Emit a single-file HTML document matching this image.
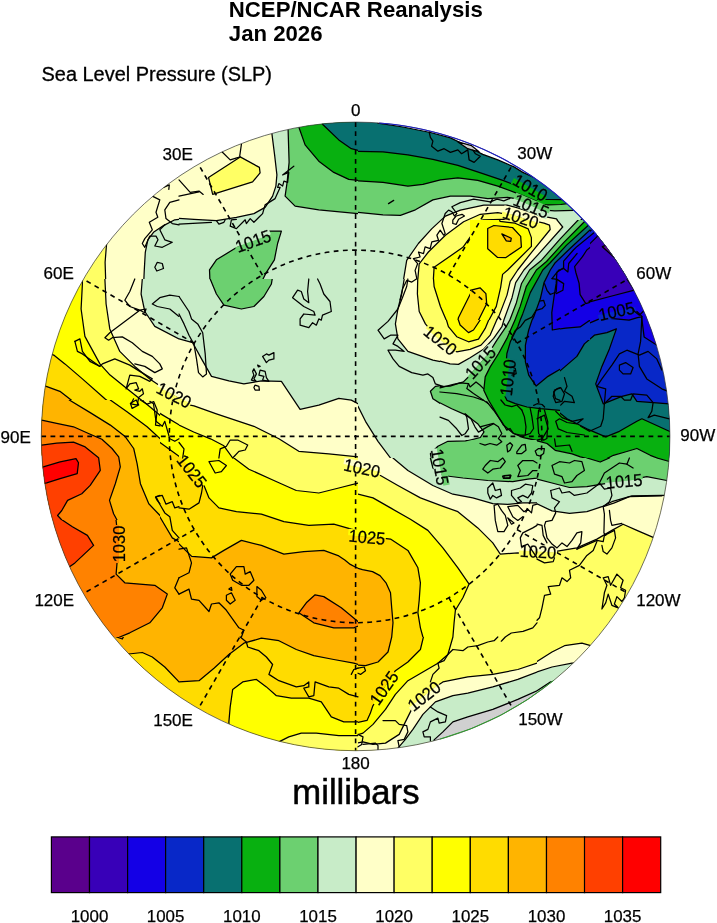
<!DOCTYPE html>
<html><head><meta charset="utf-8"><title>NCEP/NCAR Reanalysis</title>
<style>
html,body{margin:0;padding:0;background:#fff}
body{width:717px;height:923px;overflow:hidden}
svg{display:block}
text{font-family:"Liberation Sans",sans-serif;fill:#000}
</style></head><body>
<svg width="717" height="923" viewBox="0 0 717 923">
<defs>
<clipPath id="cc"><circle cx="355.6" cy="436.4" r="314.3"/></clipPath>
<clipPath id="t0"><rect x="0" y="100" width="179" height="179"/></clipPath>
<clipPath id="t1"><rect x="179" y="100" width="179" height="179"/></clipPath>
<clipPath id="t2"><rect x="358" y="100" width="179" height="179"/></clipPath>
<clipPath id="t3"><rect x="537" y="100" width="179" height="179"/></clipPath>
<clipPath id="t4"><rect x="0" y="279" width="179" height="179"/></clipPath>
<clipPath id="t5"><rect x="179" y="279" width="179" height="179"/></clipPath>
<clipPath id="t6"><rect x="358" y="279" width="179" height="179"/></clipPath>
<clipPath id="t7"><rect x="537" y="279" width="179" height="179"/></clipPath>
<clipPath id="t8"><rect x="0" y="458" width="179" height="179"/></clipPath>
<clipPath id="t9"><rect x="179" y="458" width="179" height="179"/></clipPath>
<clipPath id="t10"><rect x="358" y="458" width="179" height="179"/></clipPath>
<clipPath id="t11"><rect x="537" y="458" width="179" height="179"/></clipPath>
<clipPath id="t12"><rect x="0" y="637" width="179" height="179"/></clipPath>
<clipPath id="t13"><rect x="179" y="637" width="179" height="179"/></clipPath>
<clipPath id="t14"><rect x="358" y="637" width="179" height="179"/></clipPath>
<clipPath id="t15"><rect x="537" y="637" width="179" height="179"/></clipPath>
<clipPath id="t16"><rect x="470" y="220" width="120" height="120"/></clipPath>
<clipPath id="t17"><rect x="440" y="320" width="120" height="120"/></clipPath>
<clipPath id="t18"><rect x="40" y="400" width="120" height="120"/></clipPath>
<clipPath id="t19"><rect x="358" y="458" width="1" height="1"/></clipPath>
<clipPath id="t20"><rect x="480" y="400" width="1" height="1"/></clipPath>
<clipPath id="t21"><rect x="390" y="180" width="1" height="1"/></clipPath>
</defs>
<rect width="717" height="923" fill="#fff"/>
<g clip-path="url(#cc)">
<g clip-path="url(#t0)" stroke="#000" stroke-width="1.25" stroke-linejoin="round">
<rect x="0" y="100" width="179" height="179" fill="#ffffc8" stroke="none"/>
<polygon fill="#c8ecc8" points="187.2,218.6 174.8,219.8 163.5,225.6 153.5,232.3 147.8,239.8 145.3,252.3 144.3,269.8 143.5,287.2 187.2,287.2"/>
<polygon fill="#ffff64" points="106.6,243.5 105.1,262.3 105.9,287.2 62.4,287.2 62.4,249.8"/>
</g>
<g clip-path="url(#t1)" stroke="#000" stroke-width="1.25" stroke-linejoin="round">
<rect x="179" y="100" width="179" height="179" fill="#c8ecc8" stroke="none"/>
<polygon fill="#ffffc8" points="271.9,122.5 271.9,133.7 274.6,154.9 276.9,174.9 275.9,186.1 272.6,196.1 265.1,207.4 253.9,213.6 236.4,217.3 216.4,220.6 194,219.3 171.5,217.8 171.5,92.5 271.9,92.5"/>
<polygon fill="#ffff64" points="208.5,177.4 240.2,156.9 259.4,167.4 260.1,172.9 252.6,181.9 212.7,194.4"/>
<polygon fill="#6cd070" points="287.6,122.5 288.1,129.5 289.1,162.4 287.1,182.4 285.1,196.1 295.1,206.1 318.8,209.8 366.2,214.3 366.2,92.5 287.6,92.5"/>
<polygon fill="#08b010" points="298.3,122.5 298.8,127 305.1,144.9 318.8,161.2 333.8,172.4 348.8,179.4 366.2,181.1 366.2,92.5 298.3,92.5"/>
<polygon fill="#087070" points="321.3,120 322.5,124.2 338.8,139.9 351.3,148.7 366.2,152.4 366.2,92.5 321.3,92.5"/>
<polygon fill="#6cd070" points="236.9,247.3 251.4,236.8 268.9,231.1 281.4,231.1 277.6,243.5 274.4,259.8 266.4,272.3 258.9,287.2 210.2,287.2 209.5,269.8 216.4,259.8"/>
</g>
<g clip-path="url(#t2)" stroke="#000" stroke-width="1.25" stroke-linejoin="round">
<rect x="358" y="100" width="179" height="179" fill="#087070" stroke="none"/>
<polygon fill="#ffffff" points="373,115 378,123.2 402.9,127 430.4,132.5 450.4,137.9 467.8,146.2 476.6,151.2 482.8,154.4 497.8,159.9 514,166.9 522.8,172.4 545.2,182.4 545.2,92.5 373,92.5"/>
<polygon fill="#d0d0d0" points="457.9,141.9 471.6,145.7 479.1,151.7 473.3,150.4 467.8,148.7"/>
<polygon fill="#08b010" points="350.5,151.2 383,151.9 407.9,154.9 432.9,159.4 457.9,165.4 482.8,173.6 502.8,180.4 517.8,186.1 545.2,198.6 545.2,287.2 350.5,287.2"/>
<polygon fill="#6cd070" points="350.5,180.4 383,182.4 407.9,186.1 422.9,184.4 440.4,179.9 457.9,177.9 477.8,180.4 497.8,186.1 517.8,193.6 545.2,204.9 545.2,287.2 350.5,287.2"/>
<polygon fill="#c8ecc8" points="350.5,211.8 383,214.8 400.4,215.3 415.4,209.8 432.9,199.9 450.4,196.1 470.3,196.1 487.8,198.6 507.8,197.4 522.8,199.9 545.2,209.8 545.2,287.2 350.5,287.2"/>
<polygon fill="#ffffc8" points="399.9,289.7 403.4,280.5 406.7,260.3 418.4,243.5 431.9,228.6 445.4,216.1 460.4,210.1 483.8,205.1 507,205.1 517.8,207.8 545.2,217.3 545.2,287.2"/>
<polygon fill="#ffff64" points="416.7,289.7 417.7,280.5 419.2,263.8 428.4,252 445.4,235.3 463.6,221.8 480.3,214.3 497.8,212.6 512.8,215.3 532.8,221.1 545.2,227.3 545.2,287.2"/>
<polygon fill="#ffff00" points="432.9,287.2 434.1,267.3 462.9,247.3 475.3,229.8 482.8,219.8 502.8,219.3 522.8,224.8 530.3,234.8 532.8,247.3 530.3,254.8 517.8,269.8 507.8,287.2"/>
<polygon fill="#ffdc00" points="487.8,228.6 494.1,225.6 512.8,229.8 521.5,238.6 520.3,247.3 507.8,257.3 497.8,257.3 487.8,248.5"/>
<polygon fill="#ffb400" points="500.3,232.3 510.8,237.8 509,241.8 504,241.1"/>
</g>
<g clip-path="url(#t3)" stroke="#000" stroke-width="1.25" stroke-linejoin="round">
<rect x="537" y="100" width="179" height="179" fill="#087070" stroke="none"/>
<polygon fill="#08b010" points="522.9,199.1 548,199.5 562.6,199.5 623.3,199.5 623.3,351.4 522.9,351.4"/>
<polygon fill="#6cd070" points="522.9,204.9 548,204.9 560.6,204.5 567.7,203.7 623.3,203.7 623.3,351.4 522.9,351.4"/>
<polygon fill="#c8ecc8" points="522.9,210.1 548,210.4 554.7,210.8 573.9,210.4 623.3,210.4 623.3,351.4 522.9,351.4"/>
<polygon fill="#ffffc8" points="514.4,215.1 539.6,215.7 556.5,218.8 562.8,228.2 549.6,243.9 527,267.8 514.4,280.3"/>
<polygon fill="#ffff64" points="514.4,217.6 535.8,218.8 549.6,224.5 550.6,231.4 539.6,243.9 527,257.1 514.4,270.3"/>
<polygon fill="#ffff00" points="514.4,228.2 527,228.9 530.8,230.1 532,242.7 527,250.2 514.4,262.8"/>
<polygon fill="#6cd070" points="582.2,218.8 564.7,236.4 545.8,255.2 527,275.3 514.4,289.1 514.4,388.3 715.3,388.3 715.3,212.6 602.3,212.6"/>
<polygon fill="#08b010" points="586,223.2 567.2,241.4 548.3,260.2 533.3,275.3 527,285.4 514.4,300.4 514.4,388.3 715.3,388.3 715.3,212.6 602.3,212.6"/>
<polygon fill="#087070" points="589.1,227 569.7,245.8 552.1,262.8 539.6,275.3 529.5,290 519.5,304.2 519.5,388.3 715.3,388.3 715.3,212.6 602.3,212.6"/>
<polygon fill="#0828c8" points="591.6,229.5 572.2,249 555.9,265.3 543.3,277.8 535.8,290 527,304.2 527,388.3 715.3,388.3 715.3,212.6 602.3,212.6"/>
<polygon fill="#1400e6" points="594.2,232.6 577.2,246.4 565.9,256.5 558.4,267.8 548.3,280.3 544.6,290 539.6,304.2 539.6,388.3 715.3,388.3 715.3,212.6 602.3,212.6"/>
<polygon fill="#3800b8" points="597.3,236.4 587.2,246.4 577.2,260.2 574.7,272.8 577.2,290 579.7,304.2 579.7,388.3 715.3,388.3 715.3,212.6 602.3,212.6"/>
<polygon fill="#5a008c" points="602.3,246.7 608.6,244.2 627.4,262.8 622.4,265.3 617,260"/>
</g>
<g clip-path="url(#t4)" stroke="#000" stroke-width="1.25" stroke-linejoin="round">
<rect x="0" y="279" width="179" height="179" fill="#ffffc8" stroke="none"/>
<polygon fill="#c8ecc8" points="143.5,271.5 142.3,279 141.1,294 144.8,311.5 154.8,326.4 179,338.9 187.2,341.4 187.2,271.5"/>
<polygon fill="#ffff64" points="104.9,271.5 104.9,279 106.1,304 109.8,328.9 119.8,351.4 134.8,366.4 149.8,378.9 169.8,392.6 187.2,403.8 187.2,466.2 -7.5,466.2 -7.5,271.5"/>
<polygon fill="#ffff00" points="82.4,271.5 82.4,284 81.1,309 84.9,336.4 99.9,363.9 110.1,375.1 126.8,388.6 143.5,401.8 160.3,413.6 178.5,424.5 187.2,430 187.2,466.2 -7.5,466.2 -7.5,271.5"/>
<polygon fill="#ffdc00" points="25,343.9 53.7,355.1 64.9,363.9 82.4,378.9 104.9,398.8 129.8,418.8 154.8,438.8 179,456.3 187.2,462.5 187.2,466.2 -7.5,466.2 -7.5,343.9"/>
<polygon fill="#ffb400" points="25,381.4 46.2,386.4 59.9,391.3 82.4,408.8 104.9,428.8 124.8,448.8 132.3,458 139.8,466.2 -7.5,466.2 -7.5,381.4"/>
<polygon fill="#ff8200" points="25,420.1 42.4,421.3 62.4,423.8 74.9,426.3 84.9,433.8 99.9,446.3 112.3,458 119.8,466.2 -7.5,466.2 -7.5,420.1"/>
<polygon fill="#ff4000" points="25,446.3 42.4,445 74.9,441.3 84.9,446.3 92.4,458 97.4,466.2 -7.5,466.2 -7.5,446.3"/>
</g>
<g clip-path="url(#t5)" stroke="#000" stroke-width="1.25" stroke-linejoin="round">
<rect x="179" y="279" width="179" height="179" fill="#c8ecc8" stroke="none"/>
<polygon fill="#6cd070" points="210.2,271.5 210.2,279 216.4,294 223.9,305.2 241.4,309 253.9,306.5 263.9,296.5 271.4,284 273.4,271.5"/>
<polygon fill="#ffffc8" points="171.5,337.7 179,338.9 192.7,342.7 201.5,358.9 211.5,376.4 228.9,380.9 243.9,383.9 261.4,380.9 281.4,381.4 300.1,409.3 318.8,405.1 338.8,398.3 351.3,400.1 358,403.8 366.2,406.3 366.2,466.2 171.5,466.2"/>
<polygon fill="#ffff64" points="171.5,401.3 194,405.8 216.4,413.8 253.9,426.3 278.9,438.8 298.8,451.3 328.8,453.8 358,456.8 366.2,457.5 366.2,466.2 171.5,466.2"/>
<polygon fill="#ffff00" points="171.5,420.1 179,425 193.7,432 210.5,438.8 223.9,445.8 232.7,458 236.4,466.2 171.5,466.2"/>
</g>
<g clip-path="url(#t6)" stroke="#000" stroke-width="1.25" stroke-linejoin="round">
<rect x="358" y="279" width="179" height="179" fill="#c8ecc8" stroke="none"/>
<polygon fill="#ffffc8" points="405.4,271.5 404.2,279 401.7,294 397.9,309 395.4,323.9 397.9,338.9 407.9,351.4 432.9,360.1 457.9,365.1 472.8,358.9 487.8,343.9 497.8,328.9 505.3,311.5 512.8,294 520.3,279 522.8,271.5"/>
<polygon fill="#ffff64" points="417.9,271.5 417.4,294 419.2,311.5 425.4,323.9 437.9,338.9 457.9,351.4 477.8,346.4 487.8,333.9 496.6,314 505.3,294 514,271.5"/>
<polygon fill="#ffff00" points="432.9,271.5 434.1,286.5 440.4,306.5 447.9,323.9 457.9,336.4 467.8,341.4 477.8,337.7 485.3,326.4 492.8,309 500.3,289 505.3,271.5"/>
<polygon fill="#ffdc00" points="472.8,289 480.3,288.5 487.8,296.5 489.1,304 472.8,331.4 466.6,332.7 457.9,321.4 458.4,317.7"/>
<polygon fill="#ffffc8" points="350.5,403.8 358,406.3 365.5,421.3 378,441.3 390.5,458 395.4,466.2 350.5,466.2"/>
<polygon fill="#6cd070" points="521.5,271.5 517.8,286.5 511.5,301.5 504,318.9 497.8,332.7 490.3,346.4 477.8,361.4 467.8,376.4 452.9,383.9 435.4,386.4 430.4,391.3 432.9,398.8 442.9,405.1 462.9,408.8 470.3,415.1 477.8,426.3 484.1,431.8 480.3,437.5 465.4,440.8 447.9,441.3 437.9,446.3 430.4,453.8 432.9,466.2 545.2,466.2 545.2,271.5"/>
<polygon fill="#08b010" points="527.8,271.5 522.8,286.5 516.5,304 507.8,323.9 497.8,343.9 487.8,361.4 484.1,378.9 485.3,393.8 492.8,408.8 505.3,423.8 517.8,433.8 537,438.8 545.2,438.8 545.2,271.5"/>
<polygon fill="#087070" points="532.8,271.5 527.8,289 520.3,309 510.3,328.9 505.3,346.4 500.3,366.4 499.1,383.9 505.3,396.3 517.8,403.8 537,408.8 545.2,408.8 545.2,271.5"/>
<polygon fill="#0828c8" points="545.2,309 537,311.5 530.3,321.4 525.3,336.4 524,353.9 527.8,373.9 537,386.4 545.2,388.8"/>
<polygon fill="#1400e6" points="545.2,316.4 537,320.2 531.5,328.9 528.3,341.4 527.8,353.9 530.8,368.9 537,378.9 545.2,381.4"/>
</g>
<g clip-path="url(#t7)" stroke="#000" stroke-width="1.25" stroke-linejoin="round">
<rect x="537" y="279" width="179" height="179" fill="#0828c8" stroke="none"/>
<polygon fill="#1400e6" points="558.8,261.6 553.7,303.5 554.6,331.9 578.8,327.7 602.3,317.7 629.1,320.2 637.4,317.7 641.6,316.9 644.1,336.9 657,345.3 687.6,353.7 687.6,261.6"/>
<polygon fill="#3800b8" points="578.2,271.5 579.4,279 586.9,302.7 611.9,296 634.4,290.2 626.9,279 624.4,271.5"/>
<polygon fill="#087070" points="529.5,271.5 550.7,271.5 549.5,275 537,300.2 529.5,309"/>
<polygon fill="#087070" points="616.4,328.9 606.9,332.7 594.4,335.2 584.4,343.9 576.9,356.4 559.5,371.4 537,385.1 529.5,388.8 529.5,466.2 724.2,466.2 724.2,406.3 676.8,406.3 669.3,403.8 636.9,401.3 631.9,393.8 621.9,396.3 603.2,403.8 595.7,383.9 601.9,366.4 609.4,348.9"/>
<polygon fill="#08b010" points="529.5,406.3 537,406.3 554.5,408.8 567,418.8 586.9,428.8 605.7,436.8 619.4,431.3 636.9,421.3 641.9,418.8 669.3,431.3 724.2,438.8 724.2,466.2 529.5,466.2"/>
<polygon fill="#6cd070" points="529.5,438.8 535.3,440.3 547,443.5 555.2,450.3 572,453.8 580.4,456.8 600.2,462 613.4,455.3 625.1,452 636.9,448.5 650.3,455.3 668.8,462.7 686.8,468.7 529.5,468.7"/>
</g>
<g clip-path="url(#t8)" stroke="#000" stroke-width="1.25" stroke-linejoin="round">
<rect x="0" y="458" width="179" height="179" fill="#ffb400" stroke="none"/>
<polygon fill="#ffdc00" points="136.1,450.5 137.3,458 139.8,480.5 147.3,505.4 159.8,516.7 172.3,537.9 179,541.6 187.2,545.4 187.2,450.5"/>
<polygon fill="#ff8200" points="117.3,450.5 118.6,458 119.8,473 114.8,490.5 109.8,502.9 116.1,520.4 118.6,544.1 116.1,574.1 124.8,582.8 154.8,585.3 167.3,594.1 162.3,607.8 149.8,622.8 129.8,632.8 119.8,637 109.8,645.2 -7.5,645.2 -7.5,450.5"/>
<polygon fill="#ff4000" points="99.9,450.5 99.9,458 98.6,470.5 77.4,494.2 67.4,501.7 57.4,516.7 72.4,526.7 87.4,535.4 93.6,545.4 74.9,562.9 69.9,566.6 25,582.8 -7.5,582.8 -7.5,450.5"/>
<polygon fill="#ff0000" points="25,469.2 74.9,458 78.6,458.7 77.9,472.5 44.9,483 25,489.2"/>
</g>
<g clip-path="url(#t9)" stroke="#000" stroke-width="1.25" stroke-linejoin="round">
<rect x="179" y="458" width="179" height="179" fill="#ffb400" stroke="none"/>
<polygon fill="#ffdc00" points="171.5,537.9 179,543.9 191.7,556.4 211.5,557.9 223.9,550.4 241.4,540.4 261.4,545.4 283.9,554.1 303.8,551.6 323.8,550.4 338.8,555.9 344.8,560.1 350.3,564.4 355.8,567.3 366.2,570.8 366.2,450.5 171.5,450.5"/>
<polygon fill="#ffff00" points="171.5,455.5 179,463 191.5,474.2 204,485.5 209,497.9 218.9,507.9 236.4,511.7 261.4,514.2 283.9,521.7 308.8,525.4 333.8,524.2 351.3,529.2 366.2,532.9 366.2,450.5 171.5,450.5"/>
<polygon fill="#ffff64" points="232.7,450.5 233.9,458 248.9,469.2 273.9,480.5 296.3,490.5 318.8,493 338.8,488 358,483 366.2,481.7 366.2,450.5"/>
<polygon fill="#ff8200" points="298.8,612.8 306.3,602.8 315.1,594.8 323.8,596.6 341.3,607.8 358,621.5 363.7,624 353.8,627.8 333.8,627.8 313.8,622.8"/>
</g>
<g clip-path="url(#t10)" stroke="#000" stroke-width="1.25" stroke-linejoin="round">
<rect x="358" y="458" width="179" height="179" fill="#ffff64" stroke="none"/>
<polygon fill="#ffffc8" points="350.5,468 358,470.5 380.5,475.5 397.9,485.5 420.4,497.9 440.4,505.4 457.9,511.7 477.8,527.9 492.8,542.9 500.3,554.1 517.8,552.9 545.2,556.6 545.2,450.5 350.5,450.5"/>
<polygon fill="#c8ecc8" points="390.5,450.5 393,458 407.9,470.5 432.9,485.5 452.9,494.2 472.8,497.9 492.8,503.7 507.8,504.4 522.8,502.9 537,502.9 545.2,503.4 545.2,450.5"/>
<polygon fill="#6cd070" points="429.2,450.5 430.4,458 432.9,468 442.9,475.5 462.9,478 487.8,480.5 512.8,481.7 527.8,479.2 537,478 545.2,476.7 545.2,450.5"/>
<polygon fill="#ffff00" points="350.5,493 358,494.2 373,497.9 390.5,507.9 410.4,519.2 427.9,530.4 442.9,547.9 457.9,567.8 469.1,584.1 462.9,597.8 455.4,610.3 454.1,622.8 452.9,637 452.9,645.2 350.5,645.2"/>
<polygon fill="#ffdc00" points="350.5,535.4 370.5,536.6 390.5,539.1 407.9,550.4 417.9,567.8 420.4,582.8 419.2,600.3 417.9,612.8 420.4,627.8 422.9,637 424.2,645.2 350.5,645.2"/>
<polygon fill="#ffb400" points="350.5,566.8 358,568.3 362.5,569.6 372.5,571.6 380,575.6 386,582.8 390.5,592.8 391.7,607.8 393,622.8 391.7,637 391.7,645.2 350.5,645.2"/>
</g>
<g clip-path="url(#t11)" stroke="#000" stroke-width="1.25" stroke-linejoin="round">
<rect x="537" y="458" width="179" height="179" fill="#ffff64" stroke="none"/>
<polygon fill="#ffffc8" points="529.5,554.1 554.5,551.6 576.9,547.9 596.9,539.1 611.9,530.4 623.1,524.2 636.9,530.4 654.3,537.9 666.8,541.6 724.2,557.9 724.2,450.5 529.5,450.5"/>
<polygon fill="#c8ecc8" points="529.5,502.4 537,503.9 552,510.9 569.5,513.4 586.9,511.7 601.9,506.7 611.9,501.7 631.9,495.9 661.8,495.4 676.8,495.4 724.2,495.4 724.2,450.5 529.5,450.5"/>
<polygon fill="#6cd070" points="529.5,478 537,479.2 552,483 569.5,487.5 586.9,486.7 601.9,484.2 624.4,481 646.8,476.7 666.8,480.5 676.8,481.7 724.2,483 724.2,450.5 529.5,450.5"/>
<polygon fill="#08b010" points="584.4,450.5 586.9,458 600.2,462 609.4,458 610.6,450.5"/>
<polygon fill="#08b010" points="654.3,450.5 656.8,458 669.3,461.5 686.8,463 686.8,450.5"/>
</g>
<g clip-path="url(#t12)" stroke="#000" stroke-width="1.25" stroke-linejoin="round">
<rect x="0" y="637" width="179" height="179" fill="#ffb400" stroke="none"/>
<polygon fill="#ff8200" points="99.9,629.5 113.6,635.8 122.3,639 127.3,629.5"/>
<polygon fill="#ffdc00" points="128.6,654 142.3,652.5 152.3,657 164.8,667 179,681.9 187.2,690.7 187.2,736.9 99.9,736.9 99.9,654"/>
</g>
<g clip-path="url(#t13)" stroke="#000" stroke-width="1.25" stroke-linejoin="round">
<rect x="179" y="637" width="179" height="179" fill="#ffdc00" stroke="none"/>
<polygon fill="#ffb400" points="171.5,679.4 179,681.9 199,680.7 214,668.2 228.9,654.5 243.9,643.2 261.4,638.2 278.9,640.7 296.3,649.5 313.8,655.7 333.8,659.5 353.8,663.2 358,664.5 366.2,664.5 366.2,629.5 171.5,629.5"/>
<polygon fill="#ffff00" points="228.9,721.9 230.2,706.9 232.7,689.4 242.7,681.9 256.4,679.4 266.4,686.9 276.4,695.7 291.3,698.2 308.8,698.2 321.3,701.9 326.3,709.4 331.3,716.9 343.8,721.9 358,721.9 366.2,721.9 366.2,786.8 228.9,786.8"/>
<polygon fill="#ffff64" points="278.9,741.9 288.8,736.9 301.3,733.1 316.3,733.1 338.8,735.6 358,735.6 366.2,735.6 366.2,786.8 278.9,786.8"/>
</g>
<g clip-path="url(#t14)" stroke="#000" stroke-width="1.25" stroke-linejoin="round">
<rect x="358" y="637" width="179" height="179" fill="#ffff64" stroke="none"/>
<polygon fill="#ffff00" points="452.9,629.5 452.9,637 447.9,654.5 437.9,663.2 422.9,672 407.9,680.7 395.4,694.4 385.5,709.4 373,724.4 363,733.1 350.5,736.9 350.5,629.5"/>
<polygon fill="#ffdc00" points="422.9,629.5 423.4,637 420.4,649.5 407.9,662 395.4,670.7 384.2,688.2 372.7,706.2 370.2,713.6 367,720.4 355.3,722.9 350.5,723.1 350.5,629.5"/>
<polygon fill="#ffb400" points="391.7,629.5 391.7,637 388,652 378,662 365.5,665.7 358,665 350.5,664.5 350.5,629.5"/>
<polygon fill="#ffffc8" points="545.2,660.7 537,663.2 517.8,669.5 492.8,674.4 467.8,676.9 442.9,681.9 427.9,691.9 412.9,706.9 405.4,721.9 399.2,734.4 385.5,743.1 373,744.4 363,741.9 350.5,744.4 350.5,786.8 545.2,786.8"/>
<polygon fill="#c8ecc8" points="545.2,669.5 537,672 517.8,679.4 492.8,686.9 467.8,693.2 452.9,695.7 435.4,701.9 422.9,714.4 412.9,729.4 405.4,739.4 397.9,748.1 397.9,786.8 545.2,786.8"/>
<polygon fill="#d0d0d0" points="545.2,686.9 537,690.7 517.8,699.4 492.8,709.4 467.8,716.9 452.9,721.9 442.9,731.9 434.1,739.9 434.1,786.8 545.2,786.8"/>
</g>
<g clip-path="url(#t15)" stroke="#000" stroke-width="1.25" stroke-linejoin="round">
<rect x="537" y="637" width="179" height="179" fill="#ffff64" stroke="none"/>
<polygon fill="#ffffc8" points="529.5,664.5 537,661.5 552,652 564.5,645.7 581.9,643.2 590.7,645.7 636.9,645.7 636.9,736.9 529.5,736.9"/>
<polygon fill="#c8ecc8" points="529.5,674.4 537,672 552,667 572,663.2 636.9,663.2 636.9,736.9 529.5,736.9"/>
<polygon fill="#d0d0d0" points="529.5,694.4 537,690.7 550.7,681.9 636.9,681.9 636.9,736.9 529.5,736.9"/>
</g>
<g clip-path="url(#t16)" stroke="#000" stroke-width="1.25" stroke-linejoin="round">
<rect x="470" y="220" width="120" height="120" fill="#ffff00" stroke="none"/>
<polygon fill="#ffff64" points="498.5,215 500,221.3 515,223.2 528.2,228.9 531.4,237.6 531.4,246.4 507.7,270 502.6,274.4 500.6,287.6 496.3,306.4 487.6,322.8 480,332.8 473.3,343.8 473.3,370.6 620.6,370.6 620.6,215"/>
<polygon fill="#ffffc8" points="526.9,215 530.3,220 544,223.2 549.5,225.2 550.2,229.5 531.4,252.6 517.7,270 510.2,281.3 507,295.1 498.8,316.4 487.6,335.3 480,344 480,370.6 620.6,370.6 620.6,215"/>
<polygon fill="#c8ecc8" points="553.7,215 555.2,217.7 562.7,227 537.6,255.1 523.9,270 515.7,282.6 512,297.7 503.8,320.3 491.3,340.3 486.7,347.2 486.7,370.6 620.6,370.6 620.6,215"/>
<polygon fill="#6cd070" points="585.5,215 580.3,217.7 560.2,238.9 541.5,260.2 529.6,270 521.4,283.8 516.4,302.7 508.8,322.8 496.3,342.8 493.4,347.2 493.4,370.6 620.6,370.6 620.6,215"/>
<polygon fill="#08b010" points="590.5,215 584.1,222 564.1,242.1 546.5,261.5 536.4,270 526.4,286.3 520.2,306.4 512,327.8 502.6,345.4 501.8,347.2 501.8,370.6 620.6,370.6 620.6,215"/>
<polygon fill="#087070" points="595.5,215 587.8,225.7 566.6,245.1 550.2,262.7 542.8,270 530.3,292.6 522.7,313.9 516.4,329 508.8,342.8 507.7,347.2 507.7,370.6 620.6,370.6 620.6,215"/>
<polygon fill="#0828c8" points="600.5,221.7 590,230 570.3,248.3 555.2,262.7 550.3,270 544,282.6 540.3,298.8 533.9,316.4 528.9,326.4 525.2,340.3 524.4,347.2 524.4,370.6 620.6,370.6 620.6,221.7"/>
<polygon fill="#1400e6" points="597.2,230 594.2,232.6 577.1,246.4 573.4,250 563.6,261.2 563.6,267.9 556.9,272.2 556.2,283.4 554,297 551.8,312.6 552.3,330 565.7,328.1 580.1,326.9 588,321.4 597.2,317.1"/>
<polygon fill="#3800b8" points="597.2,241.8 586.8,250 582.5,256.7 574.6,266.7 575.8,272.2 579.1,283.4 580.1,294.6 585.8,303.7 597.2,300.3"/>
<polygon fill="#ffdc00" points="487.7,228.5 493.9,225.5 512.5,227.5 520.7,236.4 521.4,247.1 505.6,257.7 497.6,257.5 487.7,248.8"/>
<polygon fill="#ffb400" points="501.8,233.9 511.3,238.2 510.7,241.4 506.3,240.8"/>
<polygon fill="#ffdc00" points="465,291.1 470,290.3 480,287.8 485.9,293.6 486.7,303.7 476.7,323.8 470,333.8 465,337.2"/>
</g>
<g clip-path="url(#t17)" stroke="#000" stroke-width="1.25" stroke-linejoin="round">
<rect x="440" y="320" width="120" height="120" fill="#c8ecc8" stroke="none"/>
<polygon fill="#ffffc8" points="435,360.2 440,361 450,363.8 458.4,364.4 470.1,357.7 483.5,349.3 493.6,338.4 501.9,326.7 503.9,320 506.1,315 435,315"/>
<polygon fill="#ffff64" points="435,330 440,338.4 446.7,346.8 456.7,351.8 470.1,349.3 481,345.1 490.2,335.1 496.7,320 498.9,315 435,315"/>
<polygon fill="#ffff00" points="445,315 448.4,326.7 456.7,336.7 468.5,341.8 478.5,339.2 485.2,328.4 488.7,320 491,315"/>
<polygon fill="#ffdc00" points="456.7,315 460.1,325 468.5,332.6 473.5,330 480.2,320 481.8,315"/>
<polygon fill="#6cd070" points="512,315 509.8,320 506.1,326.7 496.9,340.1 488.5,353.5 480.2,363.5 470.1,375.2 463.4,381.9 450,386.1 435,386.9 435,398.7 436.7,401.2 451.7,408.7 466.8,415.4 478,424.1 484,431.8 480.3,437.5 465.3,441.3 465.3,447.2 567.2,447.2 567.2,315"/>
<polygon fill="#08b010" points="517.3,315 515,320 512,326.7 506.9,338.4 498.6,353.5 490.2,366.9 485.2,376.9 483.8,390.3 488.4,400 496.1,412.9 503.4,425.1 513.5,433.5 523.5,437.7 535.2,440.2 547.1,443.8 557.2,447.2 567.2,447.2 567.2,315"/>
<polygon fill="#087070" points="522.8,315 520.2,320 517.8,326.7 510.3,341.8 506.9,353.5 506.1,363.5 504.4,376.9 502.8,392 506.9,400.3 515.3,403.7 527,407 540.4,408.7 560,410.4 567.2,411.2 567.2,315"/>
<polygon fill="#0828c8" points="533.7,315 528.7,330 525.4,345.1 525.4,361.8 528.7,375.2 536.2,386.1 547.1,376.9 560,369.4 567.2,366.9 567.2,315"/>
<polygon fill="#1400e6" points="551.8,312.5 552.3,330 567.2,327.5 567.2,312.5"/>
</g>
<g clip-path="url(#t18)" stroke="#000" stroke-width="1.25" stroke-linejoin="round">
<rect x="40" y="400" width="120" height="120" fill="#ffdc00" stroke="none"/>
<polygon fill="#ffff00" points="106.9,395 110.3,400 127,411.7 147.1,426.8 160,438.5 167.2,445.2 167.2,395"/>
<polygon fill="#ffff64" points="138.7,395 143.8,401.7 156.7,412.4 167.2,421.8 167.2,395"/>
<polygon fill="#ffb400" points="67.6,395 69.3,400 90.2,412.6 110.3,425.1 125.4,436.8 133.7,448.5 137.1,463.6 140.4,483.7 148.8,503.8 160,515.5 167.2,521.3 167.2,527.2 35,527.2 35,395"/>
<polygon fill="#ff8200" points="35,419.2 41.7,420.1 56.7,423.4 73.5,426.8 88.5,433.5 101.9,439.3 112,448.5 118.7,456.9 120.3,466.9 115.3,483.7 109.5,500.4 113.6,513.8 117,520 120.3,527.2 35,527.2"/>
<polygon fill="#ff4000" points="35,445.2 41.7,445.2 56.7,443.2 73.5,442.2 85.2,446.9 98.6,457.7 100.3,470.3 90.2,485.4 81.8,493.7 67.6,500.4 61.8,510.5 57.6,515.5 61.8,520 65.1,527.2 35,527.2"/>
<polygon fill="#ff0000" points="35,468.6 43.3,466.9 60.1,461.9 76,458.6 78.5,462.8 77.2,473.6 60.1,478.7 46.7,482.8 35,485.4"/>
</g>
<g fill="none" stroke="#000" stroke-width="1.6" stroke-dasharray="4.8 4.4">
<circle cx="355.6" cy="436.4" r="186.3"/>
<line x1="355.6" y1="122.09999999999997" x2="355.6" y2="750.7"/>
<line x1="41.30000000000001" y1="436.4" x2="669.9000000000001" y2="436.4"/>
<line x1="448.8" y1="275.1" x2="512.8" y2="164.2"/>
<line x1="516.9" y1="343.2" x2="627.8" y2="279.2"/>
<line x1="516.9" y1="529.5" x2="627.8" y2="593.5"/>
<line x1="448.8" y1="597.7" x2="512.8" y2="708.6"/>
<line x1="262.4" y1="597.7" x2="198.4" y2="708.6"/>
<line x1="194.3" y1="529.6" x2="83.4" y2="593.6"/>
<line x1="194.3" y1="343.2" x2="83.4" y2="279.2"/>
<line x1="262.4" y1="275.1" x2="198.4" y2="164.2"/>
</g>
</g>
<circle cx="355.6" cy="436.4" r="314.3" fill="none" stroke="#333" stroke-width="0.7"/>
<path d="M379.2,123.0 A314.3,314.3 0 0 1 596.4,234.4" fill="none" stroke="#1c1cc8" stroke-width="1.1"/>
<path d="M553.4,680.7 A314.0,314.0 0 0 1 440.1,739.1" fill="none" stroke="#2ca02c" stroke-width="1"/>
<g clip-path="url(#cc)">
<g transform="translate(253,241) rotate(-20)"><rect x="-19" y="-6.5" width="38" height="6.6" fill="#c8ecc8"/><rect x="-19" y="0" width="38" height="6.5" fill="#6cd070"/></g>
<g transform="translate(174,395) rotate(27)"><rect x="-19" y="-6.5" width="38" height="6.6" fill="#ffffc8"/><rect x="-19" y="0" width="38" height="6.5" fill="#ffff64"/></g>
<g transform="translate(192,471) rotate(52)"><rect x="-19" y="-6.5" width="38" height="6.6" fill="#ffff00"/><rect x="-19" y="0" width="38" height="6.5" fill="#ffdc00"/></g>
<g transform="translate(119,544) rotate(-90)"><rect x="-19" y="-6.5" width="38" height="6.6" fill="#ff8200"/><rect x="-19" y="0" width="38" height="6.5" fill="#ffb400"/></g>
<g transform="translate(362,468) rotate(12)"><rect x="-19" y="-6.5" width="38" height="6.6" fill="#ffffc8"/><rect x="-19" y="0" width="38" height="6.5" fill="#ffff64"/></g>
<g transform="translate(367,537) rotate(5)"><rect x="-19" y="-6.5" width="38" height="6.6" fill="#ffff00"/><rect x="-19" y="0" width="38" height="6.5" fill="#ffdc00"/></g>
<g transform="translate(384,688) rotate(-55)"><rect x="-19" y="-6.5" width="38" height="6.6" fill="#ffdc00"/><rect x="-19" y="0" width="38" height="6.5" fill="#ffff00"/></g>
<g transform="translate(424,696) rotate(-38)"><rect x="-19" y="-6.5" width="38" height="6.6" fill="#ffff64"/><rect x="-19" y="0" width="38" height="6.5" fill="#ffffc8"/></g>
<g transform="translate(538,551.6) rotate(3)"><rect x="-19" y="-6.5" width="38" height="6.6" fill="#ffffc8"/><rect x="-19" y="0" width="38" height="6.5" fill="#ffff64"/></g>
<g transform="translate(624,481) rotate(-5)"><rect x="-19" y="-6.5" width="38" height="6.6" fill="#6cd070"/><rect x="-19" y="0" width="38" height="6.5" fill="#c8ecc8"/></g>
<g transform="translate(440,467) rotate(80)"><rect x="-19" y="-6.5" width="38" height="6.6" fill="#6cd070"/><rect x="-19" y="0" width="38" height="6.5" fill="#c8ecc8"/></g>
<g transform="translate(530.4,187.6) rotate(30)"><rect x="-19" y="-6.5" width="38" height="6.6" fill="#087070"/><rect x="-19" y="0" width="38" height="6.5" fill="#08b010"/></g>
<g transform="translate(531.2,206) rotate(23)"><rect x="-19" y="-6.5" width="38" height="6.6" fill="#6cd070"/><rect x="-19" y="0" width="38" height="6.5" fill="#c8ecc8"/></g>
<g transform="translate(520.7,217.4) rotate(18)"><rect x="-19" y="-6.5" width="38" height="6.6" fill="#ffffc8"/><rect x="-19" y="0" width="38" height="6.5" fill="#ffff64"/></g>
<g transform="translate(616.5,311) rotate(-12)"><rect x="-19" y="-6.5" width="38" height="6.6" fill="#1400e6"/><rect x="-19" y="0" width="38" height="6.5" fill="#0828c8"/></g>
<g transform="translate(440.4,340.2) rotate(38.7)"><rect x="-19" y="-6.5" width="38" height="6.6" fill="#ffff64"/><rect x="-19" y="0" width="38" height="6.5" fill="#ffffc8"/></g>
<g transform="translate(480.3,362.6) rotate(-48)"><rect x="-19" y="-6.5" width="38" height="6.6" fill="#c8ecc8"/><rect x="-19" y="0" width="38" height="6.5" fill="#6cd070"/></g>
<g transform="translate(507.8,377.6) rotate(-83)"><rect x="-19" y="-6.5" width="38" height="6.6" fill="#08b010"/><rect x="-19" y="0" width="38" height="6.5" fill="#087070"/></g>
<g fill="none" stroke="#000" stroke-width="1.25" stroke-linejoin="round" stroke-linecap="round">
<polyline points="152.3,196.1 159.8,199.9 156,212.3 157.8,217.3 149.3,222.3 152.3,229.8 144.8,238.6 142.3,243.5 144.8,247.3 149.8,236.1 156,236.1 158,239.8 154.8,246 162.3,247.3 172.3,242.3 164.8,239.8 159.8,229.8 164.8,224.8"/>
<polyline points="179,199.9 169.8,202.4 164.8,209.8 166,218.6 172.3,223.6 179,224.8"/>
<polyline points="157.3,262.3 162.3,263.5 163.5,268.5 156.8,271 154.8,267.3 157.3,262.3"/>
<polyline points="163.5,187.4 169.3,184.9 168.8,189.4"/>
<polyline points="241.4,144.4 239.7,156.2"/>
<polyline points="221.4,151.2 230.2,159.9 240.2,156.9"/>
<polyline points="179,179.9 190.2,192.4 199,191.1 203.2,194.4"/>
<polyline points="179,196.1 199,191.9"/>
<polyline points="293.8,166.2 282.6,174.9 288.8,172.4 287.6,182.4 283.9,181.1 282.6,186.1 278.9,183.6 277.6,187.4 280.1,187.4 275.1,198.6 265.1,204.9 262.6,213.6 258.9,217.3 253.9,222.3 250.2,218.6 246.4,223.6 245.2,219.8 236.4,228.6 230.2,226.1 231.4,219.8 236.4,219.3"/>
<polyline points="216.4,220.6 218.9,224.1 223.9,222.3 225.2,219.8"/>
<polyline points="179,224.1 211.5,222.3"/>
<polyline points="429.2,132 430.4,137.4 432.9,141.2 431.6,146.2 437.9,151.2 444.1,148.7 450.4,152.4 457.9,149.9 461.6,153.7 467.8,149.9 469.1,159.9 474.1,162.4 480.3,156.2 475.3,153.7 472.8,149.9"/>
<polyline points="388.5,203.6 393.7,200.4"/>
<polyline points="134.8,279 129.8,291.5 124.8,300.2 129.8,306.5 139.8,310.2 146,309 144.8,312.7 139.8,310.2 124.8,321.4 109.8,332.7 104.9,337.7 108.6,340.2 112.3,337.7 122.3,336.9 132.3,342.7 142.3,351.4 152.3,356.4 159.8,363.9 162.3,368.9 154.8,372.6 144.8,366.4 134.8,363.9"/>
<polyline points="74.9,341.4 79.9,338.9 82.4,351.4 89.9,361.4 99.9,366.4 102.4,363.9 114.8,358.9 129.8,365.1 139.8,371.4 152.3,378.9 149.8,381.4 139.8,376.4 129.8,375.1 126.1,388.8 129.8,383.9 136.1,382.6 138.6,388.8 134.8,390.1 139.8,391.3 142.3,388.8 143.5,393.8 138.6,397.6 137.3,405.1 131.1,403.8 133.6,398.8"/>
<polyline points="74.9,341.4 77.4,351.4 82.4,353.9 99.9,366.4"/>
<polyline points="149.8,401.3 153.5,403.8 156,421.3 162.3,426.3 164.8,421.3 169.8,438.8 174.8,441.3 179,438.8"/>
<polyline points="179,296.5 169.8,295.2 159.8,297.7 152.3,304 157.3,306.5 169.8,309 179,316.4"/>
<polyline points="179,296.5 184,304 189,311.5 191.5,318.9 197.7,323.9 202.7,332.7 204,343.9 205.2,353.9 206.5,373.9 202.7,376.9 198.5,372.6 196.5,358.9 194,344.4 189,335.2 184,323.9 179,314"/>
<polyline points="308.8,279 307.6,291.5 308.8,302.7 303.8,299 301.3,291.5 297.6,290.2 292.6,297.7 303.8,306.5 313.8,311.5 315.1,315.2 303.8,314 300.1,318.9 300.1,325.2 308.8,327.7 312.6,322.7 316.3,325.2 318.8,318.9 321.3,320.2 322.5,315.2 331.3,311.5 330,301.5 323.8,294 320.1,284 317.6,279"/>
<polyline points="262.6,356.4 266.4,353.9 268.9,355.1 273.9,352.6 273.9,358.9 268.9,360.1 266.4,362.6 262.6,356.4"/>
<polyline points="253.9,368.9 256.4,373.9 253.9,378.9 256.4,381.4 251.4,380.1 253.9,375.1 252.6,371.4 253.9,368.9"/>
<polyline points="260.1,370.1 265.1,371.4 266.4,377.6 268.9,381.4 262.6,380.1 263.9,376.4 258.9,375.1 260.1,370.1"/>
<polyline points="255.1,385.1 258.9,386.4 259.4,390.1 255.1,390.1 253.9,387.6 255.1,385.1"/>
<polyline points="257.6,365.1 260.1,366.4 258.4,366.9 257.6,365.1"/>
<polyline points="218.9,458 220.2,448.8 226.4,446.3 230.2,440 237.7,440 247.7,445 245.2,450 238.9,451.3 232.7,458"/>
<polyline points="179,442.5 184,448.8 182.7,458"/>
<polyline points="407.9,279 406.7,286.5 402.9,296.5 397.9,309 388,321.4 378,330.2 384.2,338.9 390.5,335.2 397.9,335.2 393,343.9 397.9,346.4 404.2,351.4 395.4,350.2 388,350.2 393,358.9 399.2,366.4 411.7,372.6 422.9,375.1 427.9,373.9 432.9,377.6 435.4,383.9 442.9,386.4"/>
<polyline points="633.1,310.2 639.4,315.2 643.1,311.5"/>
<polyline points="636.9,311.5 641.9,316.4"/>
<polyline points="641.9,316.4 640.6,341.4 638.1,353.9 639.4,366.4 646.8,378.9 661.8,388.8 668.1,391.3"/>
<polyline points="596.9,386.4 601.9,378.9 611.9,365.1 619.4,353.9 626.9,350.2 639.4,355.1 648.1,351.4 656.8,358.9 661.8,370.1"/>
<polyline points="619.4,365.1 625.6,362.6 633.1,367.6 630.6,373.9 623.1,373.9 619.4,370.1 619.4,365.1"/>
<polyline points="596.9,386.4 605.7,388.8 604.4,403.8 611.9,396.3 620.6,396.3 624.4,400.1 630.6,400.1 633.1,393.8 646.8,395.1 653.1,402.6 651.8,411.3 648.1,417.6 654.3,415.1 669.3,418.8"/>
<polyline points="604.4,403.8 603.2,418.8 600.7,426.3 589.4,431.3 580.7,426.3"/>
<polyline points="564.5,377.6 567,386.4 564.5,391.3 572,396.3 574.4,402.6 564.5,401.3 560.7,405.1"/>
<polyline points="554.5,390.1 560.7,387.6 564.5,393.8 562,401.3 555.7,402.6 553.2,396.3 554.5,390.1"/>
<polyline points="555.7,411.3 562,417.6 572,421.3 583.2,418.8 576.9,423.8 567,422.5 559.5,418.8 555.7,421.3 558.2,428.8 567,432.5 584.4,435"/>
<polyline points="537,418.8 544.5,415.1 548.2,428.8 542,438.8 537,440"/>
<polyline points="554.5,438.8 555.7,446.3 569.5,445 572,451.3"/>
<polyline points="179,506.7 174.8,507.9 172.3,501.7 166,504.2 162.3,495.4 156,496.7 159.8,504.2 164.8,512.9 169.8,516.7 172.3,530.4 179,537.9"/>
<polyline points="179,577.8 174.8,587.8 179,594.1"/>
<polyline points="209,461.7 218.9,460.5 226.4,465.5 221.4,471.7 215.2,473 209,461.7"/>
<polyline points="179,507.9 189,509.2 199,502.9 201.5,493 202.7,485.5"/>
<polyline points="179,549.1 186.5,547.9 191.5,562.9 189,572.8 179,577.8"/>
<polyline points="179,594.1 189,589.1 191.5,599.1 199,600.3 209,611.5 211.5,604 218.9,602.8 226.4,610.3 238.9,627.8 243.9,630.3 241.4,637"/>
<polyline points="230.2,574.1 236.4,566.6 243.9,566.6 245.2,574.1 250.2,571.6 253.9,580.3 248.9,585.3 241.4,585.3 232.7,580.3 230.2,574.1"/>
<polyline points="226.4,595.3 231.4,592.8 235.2,600.3 230.2,604 226.4,600.3 226.4,595.3"/>
<polyline points="256.9,586.6 261.4,590.3 265.9,597.8 261.4,600.3 256.9,596.6 256.9,586.6"/>
<polyline points="228.9,589.1 231.4,587.3 231.9,590.3 228.9,589.1"/>
<polyline points="485.3,465.5 490.3,460.5 497.8,461.7 502.8,458 505.3,461.7 500.3,468 492.8,469.2 487.8,473 482.8,469.2 485.3,465.5"/>
<polyline points="537,463 532.8,460.5 522.8,460.5 517.8,465.5 520.3,470.5 517.8,476.7 527.8,475.5 532.8,470.5 537,470.5"/>
<polyline points="504,475.5 510.3,475 509.8,477.5 504,478 504,475.5"/>
<polyline points="487.8,488 492.8,483 495.3,490.5 500.3,489.2 501.5,495.4 496.6,497.9 492.8,495.4 490.3,499.2 487.8,493 487.8,488"/>
<polyline points="511.5,490.5 520.3,488 525.3,484.2 532.8,485.5 531.5,493 527.8,497.9 522.8,495.4 517.8,497.9 521.5,501.7 517.8,502.9 511.5,495.4 511.5,490.5"/>
<polyline points="494.1,505.4 497.8,504.2 501.5,510.4 505.3,515.4 507.8,525.4 504,531.6 497.8,531.6 495.3,520.4 494.1,505.4"/>
<polyline points="537,504.2 532.8,505.4 531.5,512.9 527.8,509.2 524,511.7 517.8,505.4 507.8,506.7 512.8,516.7 517.8,520.4 522.8,516.7"/>
<polyline points="507.8,517.9 514,522.9 511.5,524.2 507.8,517.9"/>
<polyline points="537,525.4 532.8,527.9 522.8,532.9 520.3,537.9 521.5,546.6 527.8,544.1 537,557.9"/>
<polyline points="552,465.5 559.5,461.7 569.5,463 574.4,460.5 581.9,461.7 584.4,470.5 576.9,475.5 572,481.7 564.5,483 562,476.7 554.5,474.2 552,465.5"/>
<polyline points="599.4,483 604.4,473 611.9,468 619.4,463 626.9,464.2 629.4,458"/>
<polyline points="626.9,464.2 633.1,468"/>
<polyline points="550.7,490.5 559.5,488 562,493 569.5,491.7 574.4,495.4 586.9,493 596.9,485.5 599.4,483 604.4,489.2 610.6,488 611.9,495.4 609.4,501.7 603.2,506.7 604.4,514.2 603.9,532.9 605.7,535.4"/>
<polyline points="550.7,490.5 552,497.9 559.5,501.7 554.5,507.9 555.7,512.9 552,520.4 545.7,521.7 544.5,525.4 547,537.9 552,544.1 557,547.9 562,542.9 567,546.6 572,540.4 576.9,532.9 581.9,531.6 580.7,542.9 576.9,549.1"/>
<polyline points="537,524.2 542,525.4 543.2,535.4 547,542.9"/>
<polyline points="603.2,506.7 614.4,502.9 629.4,496.7 661.8,495.9"/>
<polyline points="609.4,510.4 610.6,520.4 611.9,525.4 621.9,523.4"/>
<polyline points="576.9,549.1 596.9,540.4 603.2,541.6 604.4,535.4 614.4,530.4 615.6,537.9 611.9,547.9 606.9,554.1 603.2,551.6 601.9,545.4"/>
<polyline points="596.9,541.6 593.2,550.4 586.9,555.4 579.4,565.4 569.5,570.3 570.7,577.8 567,581.6 562,577.8 559.5,585.3 548.2,586.6 550.7,594.1 544.5,595.3 542,607.8 539.5,617.8 537,620.3"/>
<polyline points="603.2,577.8 608.2,576.6 610.6,585.3 616.9,574.1 623.1,580.3 620.6,587.8 625.6,590.3 624.4,597.8 621.9,601.5 616.9,596.6 614.4,604 618.1,607.8 611.9,605.3 608.2,594.1 605.7,602.8 601.9,609 604.4,592.8 606.9,585.3 603.2,577.8"/>
<polyline points="537,559.1 544.5,562.9 553.2,561.6 554.5,557.9"/>
<polyline points="240.2,637 246.4,642 247.7,647 258.9,650.7 266.4,657 272.6,664.5 268.9,674.4 278.9,680.7 296.3,686.9 303.8,685.7 308.8,681.9 308.8,686.9 303.8,688.2 308.8,696.9 313.8,695.7 315.1,681.9 328.8,686.9 338.8,688.2 348.8,694.4 358,696.9"/>
<polyline points="351.3,674.4 353.8,669.5 358,668.2"/>
<polyline points="358,668.2 364.2,667 365.5,670.7 360.5,674.4 358,673.2"/>
<polyline points="497.8,637 494.1,640.7 487.8,642 477.8,645.7 467.8,647 462.9,650.7 452.9,649.5 447.9,654.5 444.1,660.7 437.9,663.2 439.1,668.2 432.9,674.4 430.4,681.9"/>
<polyline points="430.4,706.9 437.9,711.9 446.6,715.6 445.4,721.9 439.1,723.1 437.9,718.1 430.4,721.9 427.9,729.4 422.9,731.9 424.2,736.9 430.4,736.9 430.4,740.6"/>
<polyline points="383,720.6 395.4,720.6 399.2,724.4 406.7,725.6 407.9,731.9 404.2,739.4 397.9,740.6 399.2,746.8"/>
<polyline points="358,746.8 361.7,744.4 363,736.9 358,734.4"/>
<polyline points="363,744.4 375.5,743.1 378,745.6 378,749.3"/>
<polyline points="552,278.6 558.7,270.2 563.7,268.5 567.9,271.9 568.7,263.5 577.1,253.5"/>
<polyline points="552,278.6 557,279.4 556.2,292 550.3,294.5 547,290.3 544.5,283.6"/>
<polyline points="557,279.4 563.7,283.6 562.9,290.3 556.2,293.6"/>
<polyline points="539.5,301.2 543.6,300.3 545.3,305.4 542,308.7 536.1,310.4"/>
<polyline points="536.1,310.4 531.9,317.1 525.2,320.4 520.2,327.1 515.2,330.5 511.8,337.2 513.5,340"/>
<polyline points="440,387.8 446.7,386.1 453.4,384.4 460.1,382.8 468.5,383.6 470.1,386.9 476,381.9 480.2,385.3 483.5,388.6"/>
<polyline points="440,392 456.7,393.6 473.5,397 483.5,400.3 488.5,403.7"/>
<polyline points="468.5,383.6 466.8,388.6 473.5,393.6 483.5,400.3"/>
<polyline points="440,417.1 448.4,420.4 456.7,428.8 461.8,435.5 465.1,433.8 468.5,428.8 466.8,417.1 465.1,413.7 471,418.7 475.1,427.1 478.5,432.1 486.9,427.1 493.6,423.8"/>
<polyline points="512,366.9 515.3,368.5 516.2,373.6 512,375.2"/>
<polyline points="553.8,392 557.2,388.6 560,387.8"/>
<polyline points="553.8,392 555.5,398.7 560,400.3"/>
<polyline points="533.7,405.4 537.1,403.7 542.1,404.5 544.6,407"/>
<polyline points="130.4,403.3 136.2,400 138.7,405 132.1,408.4 130.4,403.3"/>
<polyline points="140.4,400 147.1,404.2 153.8,401.7 157.2,410 155.5,425.1 160,425.9"/>
<polyline points="160,495.4 155.5,497.1 157.2,500.4 160,503.8"/>
<polyline points="537,622.8 532.8,627.8 523,631.3 511.3,633 505.3,637 501.3,641.2"/>
<polyline points="480,426.8 486.7,425.1 493.4,423.4 498.4,426.8 501.8,433.5 498.4,438.5 501.8,441.8 496.7,445.2 490,443.5 485,445.2 480,443.5"/>
<polyline points="506.8,445.2 510.1,442.7 512.6,445.2 510.1,450.2 507.6,451.9 506.8,445.2"/>
<polyline points="516.8,451.9 521.8,445.2 525.2,444.4 526,450.2 521.8,453.6 516.8,453.6 516.8,451.9"/>
<polyline points="535.2,451 538.6,448.5 544.4,448.5 543.6,453.6 540.3,456.1 536.9,455.2 535.2,451"/>
<polyline points="502.6,476.2 511,475.3 510.1,478.3 503.4,478.3 502.6,476.2"/>
<polyline points="521.8,410 524.4,416.7 526,426.8 525.2,435.1 530.2,433.5 533.6,428.5 531.9,416.7 530.2,408.4"/>
<polyline points="538.6,410 537.7,420.1 538.6,433.5 543.6,440.2 546.9,438.5 547.8,421.8 544.4,410"/>
<polyline points="486.7,401.7 493.4,410 501.8,421.8 506.8,430.1 510.1,428.5 513.5,433.5 520.2,435.1 525.2,435.1"/>
<polyline points="500.9,400 505.1,405 511.8,406.7 516.8,405 521.8,410"/>
<polyline points="400,300 402.6,288.8 406.7,280.4 411.8,282.1 416.8,278.7 415.1,270.4 417.6,263.7 413.4,258.7 420.1,257 418.5,252 423.5,253.6 425.1,246.9 430.2,248.6 431.8,241.9 438.5,240.3 436.9,235.2 440.2,230.2 443.6,235.2 445.2,233.6 441.9,223.5 445.2,213.5 448.6,210.1 451.9,211.8 454.4,216 456.9,213.5 451.9,206.8 460.3,202.6 473.7,199.2 490.4,201.8 497.1,199.2 503.8,200.9 510,198.4"/>
<polyline points="452.8,220.2 456.1,216 462,214.3 464.5,216 458.6,219.3 456.1,224.4 452.8,223.5 452.8,220.2"/>
</g>
</g>
<g font-size="17.3px" text-anchor="middle" stroke="#000" stroke-width="0.25">
<text transform="translate(253,241) rotate(-20) scale(0.95,1)" y="6.2">1015</text>
<text transform="translate(174,395) rotate(27) scale(0.95,1)" y="6.2">1020</text>
<text transform="translate(192,471) rotate(52) scale(0.95,1)" y="6.2">1025</text>
<text transform="translate(119,544) rotate(-90) scale(0.95,1)" y="6.2">1030</text>
<text transform="translate(362,468) rotate(12) scale(0.95,1)" y="6.2">1020</text>
<text transform="translate(367,537) rotate(5) scale(0.95,1)" y="6.2">1025</text>
<text transform="translate(384,688) rotate(-55) scale(0.95,1)" y="6.2">1025</text>
<text transform="translate(424,696) rotate(-38) scale(0.95,1)" y="6.2">1020</text>
<text transform="translate(538,551.6) rotate(3) scale(0.95,1)" y="6.2">1020</text>
<text transform="translate(624,481) rotate(-5) scale(0.95,1)" y="6.2">1015</text>
<text transform="translate(440,467) rotate(80) scale(0.95,1)" y="6.2">1015</text>
<text transform="translate(530.4,187.6) rotate(30) scale(0.95,1)" y="6.2">1010</text>
<text transform="translate(531.2,206) rotate(23) scale(0.95,1)" y="6.2">1015</text>
<text transform="translate(520.7,217.4) rotate(18) scale(0.95,1)" y="6.2">1020</text>
<text transform="translate(616.5,311) rotate(-12) scale(0.95,1)" y="6.2">1005</text>
<text transform="translate(440.4,340.2) rotate(38.7) scale(0.95,1)" y="6.2">1020</text>
<text transform="translate(480.3,362.6) rotate(-48) scale(0.95,1)" y="6.2">1015</text>
<text transform="translate(507.8,377.6) rotate(-83) scale(0.95,1)" y="6.2">1010</text>
</g>
<g font-size="17px" stroke="#000" stroke-width="0.25">
<text x="355.8" y="116" text-anchor="middle">0</text>
<text x="162.6" y="160" text-anchor="start">30E</text>
<text x="43.5" y="278.8" text-anchor="start">60E</text>
<text x="0.5" y="442.7" text-anchor="start">90E</text>
<text x="34.4" y="605.5" text-anchor="start">120E</text>
<text x="153.2" y="725.7" text-anchor="start">150E</text>
<text x="341.4" y="768.5" text-anchor="start">180</text>
<text x="518.2" y="725" text-anchor="start">150W</text>
<text x="636.2" y="605.5" text-anchor="start">120W</text>
<text x="517.3" y="159" text-anchor="start">30W</text>
<text x="636.3" y="278.5" text-anchor="start">60W</text>
<text x="680.3" y="441" text-anchor="start">90W</text>
</g>
<text x="228.8" y="16.9" font-size="22.2px" font-weight="bold">NCEP/NCAR Reanalysis</text>
<text x="228.8" y="41.1" font-size="22.2px" font-weight="bold">Jan 2026</text>
<text x="41.5" y="81.1" font-size="19.95px" stroke="#000" stroke-width="0.3">Sea Level Pressure (SLP)</text>
<text x="355.9" y="804" font-size="34.7px" stroke="#000" stroke-width="0.5" text-anchor="middle">millibars</text>
<g stroke="#000" stroke-width="1.2">
<rect x="51.4" y="836.9" width="38.1" height="55.7" fill="#5a008c"/>
<rect x="89.5" y="836.9" width="38.1" height="55.7" fill="#3800b8"/>
<rect x="127.6" y="836.9" width="38.1" height="55.7" fill="#1400e6"/>
<rect x="165.6" y="836.9" width="38.1" height="55.7" fill="#0828c8"/>
<rect x="203.7" y="836.9" width="38.1" height="55.7" fill="#087070"/>
<rect x="241.8" y="836.9" width="38.1" height="55.7" fill="#08b010"/>
<rect x="279.9" y="836.9" width="38.1" height="55.7" fill="#6cd070"/>
<rect x="318" y="836.9" width="38.1" height="55.7" fill="#c8ecc8"/>
<rect x="356.1" y="836.9" width="38.1" height="55.7" fill="#ffffc8"/>
<rect x="394.1" y="836.9" width="38.1" height="55.7" fill="#ffff64"/>
<rect x="432.2" y="836.9" width="38.1" height="55.7" fill="#ffff00"/>
<rect x="470.3" y="836.9" width="38.1" height="55.7" fill="#ffdc00"/>
<rect x="508.4" y="836.9" width="38.1" height="55.7" fill="#ffb400"/>
<rect x="546.5" y="836.9" width="38.1" height="55.7" fill="#ff8200"/>
<rect x="584.5" y="836.9" width="38.1" height="55.7" fill="#ff4000"/>
<rect x="622.6" y="836.9" width="38.1" height="55.7" fill="#ff0000"/>
</g>
<g font-size="16.9px" text-anchor="middle" stroke="#000" stroke-width="0.25">
<text x="89.5" y="921.5">1000</text>
<text x="165.6" y="921.5">1005</text>
<text x="241.8" y="921.5">1010</text>
<text x="318" y="921.5">1015</text>
<text x="394.1" y="921.5">1020</text>
<text x="470.3" y="921.5">1025</text>
<text x="546.5" y="921.5">1030</text>
<text x="622.6" y="921.5">1035</text>
</g>
</svg>
</body></html>
